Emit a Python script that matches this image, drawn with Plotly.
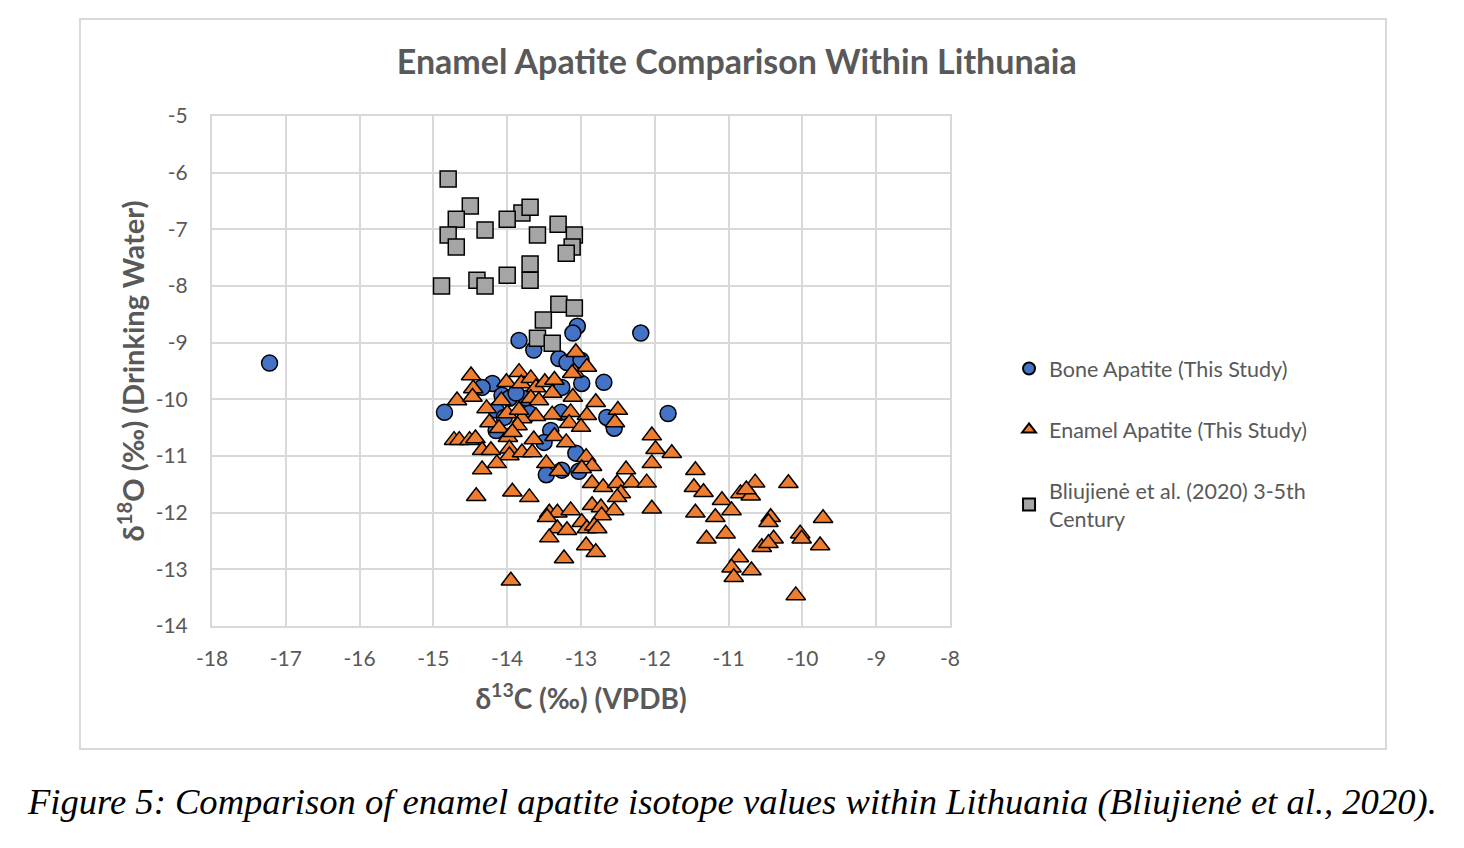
import plotly.graph_objects as go

# Bone apatite (this study)
bone_c13 = [-17.22, -14.85, -12.19, -11.82, -13.84, -13.64, -13.05, -13.11, -13.30,
            -13.19, -13.00, -14.20, -14.34, -12.69, -12.99, -13.26, -14.07, -13.97,
            -13.74, -13.88, -14.15, -14.04, -13.70, -13.27, -12.65, -12.55, -13.41,
            -13.50, -13.07, -13.47, -13.26, -13.03, -14.15]
bone_o18 = [-9.36, -10.23, -8.83, -10.25, -8.96, -9.13, -8.71, -8.83, -9.28,
            -9.35, -9.31, -9.72, -9.79, -9.70, -9.72, -9.79, -9.93, -9.98,
            -9.98, -9.89, -10.19, -10.32, -10.25, -10.23, -10.32, -10.51, -10.55,
            -10.76, -10.95, -11.33, -11.25, -11.27, -10.55]

# Enamel apatite (this study)
enamel_c13 = [-14.49, -14.46, -14.68, -14.47, -14.28, -14.24, -14.11, -14.01, -13.84, -13.81,
              -13.68, -13.61, -13.49, -13.36, -13.39, -13.68, -13.57, -13.09, -13.07, -12.92,
              -13.11, -12.80, -12.50, -12.92, -13.14, -13.39, -13.61, -13.80, -13.86, -14.00,
              -14.08, -13.99, -13.64, -13.36, -13.16, -13.00, -12.54, -12.04, -11.99, -12.04,
              -14.72, -14.65, -14.51, -14.43, -14.34, -14.22, -13.97, -13.97, -13.80, -13.66,
              -13.20, -12.93, -12.85, -13.47, -12.99, -13.30, -14.34, -14.14, -12.39, -12.85,
              -12.70, -12.51, -12.31, -12.11, -12.46, -13.93, -13.70, -14.42, -11.77, -12.51,
              -13.43, -13.32, -13.14, -13.46, -12.85, -12.73, -12.55, -12.72, -12.04, -12.99,
              -12.92, -13.32, -13.19, -13.43, -12.82, -12.78, -12.93, -12.80, -13.23, -13.95,
              -11.45, -11.47, -11.34, -11.45, -11.18, -11.09, -10.96, -11.04, -11.30, -10.84,
              -10.70, -10.64, -10.19, -10.43, -10.46, -10.39, -10.55, -10.46, -10.03, -10.01,
              -9.72, -9.76, -10.86, -10.96, -10.93, -10.69, -10.09, -13.84, -13.93, -13.12,
              -10.76]
enamel_o18 = [-9.58, -9.81, -10.02, -9.96, -10.16, -10.41, -10.51, -9.70, -9.52, -9.72,
              -9.63, -9.79, -9.70, -9.66, -9.89, -9.98, -10.02, -9.52, -9.17, -9.43,
              -9.96, -10.05, -10.19, -10.28, -10.23, -10.27, -10.30, -10.34, -10.46, -10.25,
              -10.02, -10.67, -10.71, -10.65, -10.42, -10.49, -10.41, -10.64, -10.88, -11.13,
              -10.72, -10.72, -10.72, -10.69, -10.90, -10.90, -10.87, -10.99, -10.94, -10.94,
              -10.76, -11.02, -11.18, -11.13, -11.22, -11.27, -11.24, -11.13, -11.24, -11.48,
              -11.55, -11.48, -11.47, -11.47, -11.66, -11.63, -11.73, -11.71, -10.95, -11.73,
              -12.00, -12.00, -11.96, -12.08, -11.87, -11.91, -11.96, -12.05, -11.93, -12.17,
              -12.28, -12.28, -12.31, -12.44, -12.23, -12.28, -12.58, -12.70, -12.81, -13.20,
              -11.25, -11.55, -11.64, -12.00, -12.08, -11.78, -11.96, -12.37, -12.46, -11.66,
              -11.70, -11.47, -11.48, -12.08, -12.17, -12.46, -12.61, -12.54, -12.37, -12.46,
              -12.10, -12.58, -12.79, -12.97, -13.14, -13.02, -13.46, -10.19, -10.58, -9.54,
              -11.59]

# Bliujiene et al. (2020) 3-5th Century
bliu_c13 = [-14.80, -14.50, -14.69, -13.80, -13.69, -14.00, -14.30, -14.80, -14.69, -13.59,
            -13.31, -13.09, -13.12, -13.20, -13.69, -13.69, -14.00, -14.41, -14.30, -14.89,
            -13.30, -13.09, -13.51, -13.59, -13.39]
bliu_o18 = [-6.11, -6.59, -6.82, -6.71, -6.61, -6.82, -7.01, -7.10, -7.31, -7.10,
            -6.91, -7.10, -7.31, -7.42, -7.61, -7.90, -7.81, -7.90, -8.00, -8.00,
            -8.32, -8.39, -8.60, -8.92, -9.01]

x_ticks = [-18, -17, -16, -15, -14, -13, -12, -11, -10, -9, -8]
y_ticks = [-5, -6, -7, -8, -9, -10, -11, -12, -13, -14]

grey_text = "#595959"
grid = "#d9d9d9"

fig = go.Figure()

fig.add_trace(go.Scatter(
    x=bone_c13, y=bone_o18, mode="markers", name="Bone Apatite (This Study)",
    legendgroup="a",
    marker=dict(symbol="circle", size=16, color="#4472C4",
                line=dict(color="black", width=1.5))
))
fig.add_trace(go.Scatter(
    x=enamel_c13, y=enamel_o18, mode="markers", name="Enamel Apatite (This Study)",
    legendgroup="b",
    marker=dict(symbol="triangle-up", size=17, color="#ED7D31",
                line=dict(color="black", width=1.5))
))
fig.add_trace(go.Scatter(
    x=bliu_c13, y=bliu_o18, mode="markers",
    name="Bliujienė et al. (2020) 3-5th<br>Century",
    legendgroup="c",
    marker=dict(symbol="square", size=16, color="#A5A5A5",
                line=dict(color="black", width=1.5))
))

# outer chart frame
fig.add_shape(type="rect", xref="paper", yref="paper",
              x0=-0.1789, x1=1.5908, y0=-0.2412, y1=1.1902,
              line=dict(color=grid, width=2), fillcolor="rgba(0,0,0,0)")

fig.add_annotation(
    text="Figure 5: Comparison of enamel apatite isotope values within Lithuania (Bliujienė et al., 2020).",
    xref="paper", yref="paper", x=0.7046, y=-0.345, showarrow=False,
    xanchor="center", yanchor="middle",
    font=dict(family="Liberation Serif", size=36.6, color="black", style="italic")
)

fig.update_layout(
    width=1456, height=840,
    margin=dict(l=204, r=514, t=108, b=222, autoexpand=False),
    paper_bgcolor="white", plot_bgcolor="white",
    font=dict(family="Lato", color=grey_text),
    title=dict(text="<b>Enamel Apatite Comparison Within Lithunaia</b>",
               x=0.5005, xanchor="center", y=0.9357, yanchor="middle",
               xref="container", yref="container",
               font=dict(family="Lato", size=34, color=grey_text)),
    legend=dict(x=1.080, y=0.545, xanchor="left", yanchor="top",
                font=dict(family="Lato", size=21.5, color=grey_text),
                itemsizing="constant",
                tracegroupgap=30, bgcolor="rgba(0,0,0,0)"),
    showlegend=True,
)

fig.update_xaxes(
    range=[-18, -8], tickvals=x_ticks, ticktext=[str(v) for v in x_ticks],
    showgrid=True, gridcolor=grid, gridwidth=2, zeroline=False,
    showline=True, linecolor=grid, linewidth=2, mirror=True,
    tickfont=dict(family="Lato", size=21, color=grey_text), ticklabelstandoff=13,
    title=dict(text="<b>δ<sup>13</sup>C (‰) (VPDB)</b>", standoff=20,
               font=dict(family="Lato", size=28, color=grey_text)),
)
fig.update_yaxes(
    range=[-14, -5], tickvals=y_ticks, ticktext=[str(v) for v in y_ticks],
    showgrid=True, gridcolor=grid, gridwidth=2, zeroline=False,
    showline=True, linecolor=grid, linewidth=2, mirror=True,
    tickfont=dict(family="Lato", size=21, color=grey_text), ticklabelstandoff=18,
    title=dict(text="<b>δ<sup>18</sup>O (‰) (Drinking Water)</b>", standoff=2,
               font=dict(family="Lato", size=29, color=grey_text)),
)

fig.write_html("out.html")
